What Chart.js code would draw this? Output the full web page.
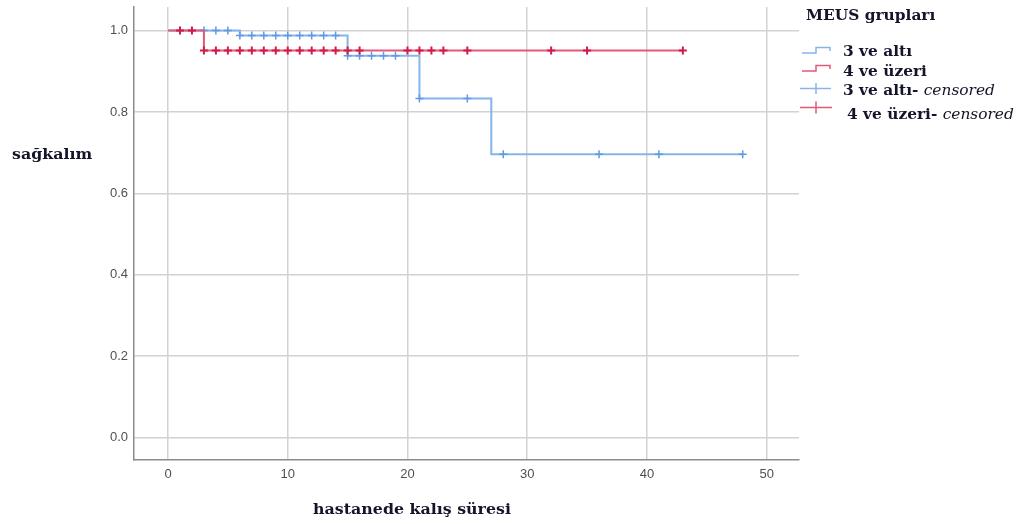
<!DOCTYPE html>
<html>
<head>
<meta charset="utf-8">
<script src="https://cdn.jsdelivr.net/npm/chart.js@4"></script>
<style>
  body { margin: 0; background: #fff; }
  #wrap { width: 1018px; height: 524px; position: relative; }
</style>
</head>
<body>
<div id="wrap"><canvas id="chart" width="1018" height="524"></canvas></div>
<script>
// Kaplan-Meier steps (time, survival)
const lowTimes = [0, 6, 15, 21, 27, 48];
const lowSurv = [1, 0.988, 0.938, 0.833, 0.696, 0.696];
const highTimes = [0, 3, 43];
const highSurv = [1, 0.951, 0.951];

// censored observations
const lowCensored = [3, 4, 5, 6, 7, 8, 9, 10, 11, 12, 13, 14, 15, 16, 17, 18, 19, 21, 25, 28, 36, 41, 48];
const highCensored = [1, 2, 3, 4, 5, 6, 7, 8, 9, 10, 11, 12, 13, 14, 15, 16, 20, 21, 22, 23, 25, 32, 35, 43];

const xTicks = [0, 10, 20, 30, 40, 50];
const yTicks = [0, 0.2, 0.4, 0.6, 0.8, 1.0];

const groupNames = ["3 ve altı", "4 ve üzeri"];
const legendTitle = "MEUS grupları";
const xTitle = "hastanede kalış süresi";
const yTitle = "sağkalım";

const blueLine = "#86b4ec";
const blueMark = "#5f9ae2";
const redLine = "#e4587a";
const redMark = "#d61a48";

// survival value at time t from step table
function survAt(times, surv, t) {
  let v = surv[0];
  times.forEach((tt, i) => { if (tt <= t) v = surv[i]; });
  return v;
}
function toPoints(times, surv) {
  return times.map((t, i) => ({ x: t, y: surv[i] }));
}
function censorPoints(list, times, surv) {
  return list.map((t) => ({ x: t, y: survAt(times, surv, t) }));
}

const serif = "'DejaVu Serif', serif";
const textColor = "#14142a";
let stretch = 1.13; // reference serif is wider than DejaVu

// draw text stretched a bit horizontally, returns drawn width
function wideText(ctx, txt, x, y, align) {
  const w = ctx.measureText(txt).width * stretch;
  let left = x;
  if (align === "center") left = x - w / 2;
  ctx.save();
  ctx.textAlign = "left";
  ctx.translate(left, y);
  ctx.scale(stretch, 1);
  ctx.fillText(txt, 0, 0);
  ctx.restore();
  return w;
}

const extraText = {
  id: "extraText",
  afterDraw(chart) {
    const ctx = chart.ctx;
    ctx.save();
    ctx.fillStyle = textColor;
    ctx.textBaseline = "middle";
    ctx.font = "bold 14px " + serif;
    stretch = 1.13;
    wideText(ctx, yTitle, 12, 155);
    wideText(ctx, xTitle, 412, 510, "center");

    // legend
    stretch = 1.1;
    wideText(ctx, legendTitle, 806, 16);

    ctx.lineWidth = 1.5;
    ctx.strokeStyle = blueLine;
    ctx.beginPath();
    ctx.moveTo(802, 53); ctx.lineTo(816, 53); ctx.lineTo(816, 47.5);
    ctx.lineTo(830, 47.5); ctx.lineTo(830, 51);
    ctx.stroke();
    ctx.strokeStyle = redLine;
    ctx.beginPath();
    ctx.moveTo(802, 71); ctx.lineTo(816, 71); ctx.lineTo(816, 65.5);
    ctx.lineTo(830, 65.5); ctx.lineTo(830, 69);
    ctx.stroke();

    ctx.strokeStyle = blueLine;
    ctx.beginPath();
    ctx.moveTo(800, 88.5); ctx.lineTo(831, 88.5);
    ctx.moveTo(816, 83); ctx.lineTo(816, 94);
    ctx.stroke();
    ctx.strokeStyle = redLine;
    ctx.beginPath();
    ctx.moveTo(800, 107.5); ctx.lineTo(832, 107.5);
    ctx.moveTo(816, 101.5); ctx.lineTo(816, 113.5);
    ctx.stroke();

    wideText(ctx, groupNames[0], 843, 52);
    wideText(ctx, groupNames[1], 843, 72.5);
    let w = wideText(ctx, groupNames[0] + "- ", 843, 91);
    ctx.font = "italic 14px " + serif;
    wideText(ctx, "censored", 843 + w, 91);
    ctx.font = "bold 14px " + serif;
    w = wideText(ctx, groupNames[1] + "- ", 847, 115);
    ctx.font = "italic 14px " + serif;
    wideText(ctx, "censored", 847 + w, 115);
    ctx.restore();
  },
};

const ctx = document.getElementById("chart").getContext("2d");
new Chart(ctx, {
  type: "line",
  data: {
    datasets: [
      {
        label: groupNames[1] + "- censored",
        data: censorPoints(highCensored, highTimes, highSurv),
        showLine: false,
        pointStyle: "cross",
        pointRadius: 4,
        pointBorderWidth: 2,
        borderColor: redMark,
        backgroundColor: redMark,
        order: 0,
      },
      {
        label: groupNames[1],
        data: toPoints(highTimes, highSurv),
        stepped: "before",
        borderColor: redLine,
        borderWidth: 2,
        pointRadius: 0,
        fill: false,
        order: 1,
      },
      {
        label: groupNames[0] + "- censored",
        data: censorPoints(lowCensored, lowTimes, lowSurv),
        showLine: false,
        pointStyle: "cross",
        pointRadius: 4,
        pointBorderWidth: 1.5,
        borderColor: blueMark,
        backgroundColor: blueMark,
        order: 2,
      },
      {
        label: groupNames[0],
        data: toPoints(lowTimes, lowSurv),
        stepped: "before",
        borderColor: blueLine,
        borderWidth: 2,
        pointRadius: 0,
        fill: false,
        order: 3,
      },
    ],
  },
  options: {
    responsive: false,
    animation: false,
    layout: { padding: { left: 0, top: 7, right: 219, bottom: 34 } },
    plugins: { legend: { display: false }, tooltip: { enabled: false } },
    scales: {
      x: {
        type: "linear",
        min: -2.84,
        max: 52.7,
        afterBuildTicks: (s) => { s.ticks = xTicks.map((v) => ({ value: v })); },
        afterFit: (s) => {
          s.height = 30;
          s.paddingLeft = 0;
          s.paddingRight = 0;
        },
        grid: { color: "#d2d2d2", lineWidth: 1.5, drawTicks: false },
        border: { color: "#8c8c8c", width: 1.5 },
        ticks: { padding: 7, color: "#505050", font: { family: "'Liberation Sans'", size: 13 } },
      },
      y: {
        type: "linear",
        min: -0.055,
        max: 1.058,
        afterBuildTicks: (s) => { s.ticks = yTicks.map((v) => ({ value: v })); },
        afterFit: (s) => {
          s.width = 134;
          s.paddingTop = 0;
          s.paddingBottom = 0;
        },
        grid: { color: "#d2d2d2", lineWidth: 1.5, drawTicks: false },
        border: { color: "#8c8c8c", width: 1.5 },
        ticks: {
          padding: 6,
          color: "#505050",
          font: { family: "'Liberation Sans'", size: 13 },
          callback: (v) => v.toFixed(1),
        },
      },
    },
  },
  plugins: [extraText],
});
</script>
</body>
</html>
